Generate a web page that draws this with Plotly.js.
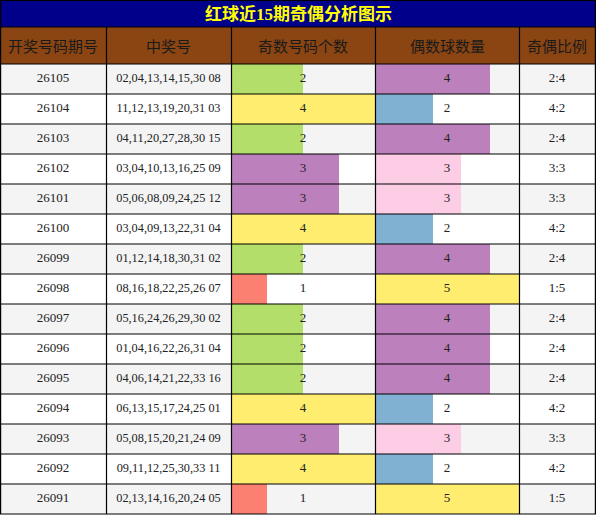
<!DOCTYPE html>
<html>
<head>
<meta charset="utf-8">
<script src="https://cdn.plot.ly/plotly-3.0.1.min.js"></script>
<style>html,body{margin:0;padding:0;background:#fff;}#chart{width:596px;height:515px;}</style>
</head>
<body>
<div id="chart"></div>
<script>
// ---- data ----
var chartTitle = "红球近15期奇偶分析图示";
var headers = ["开奖号码期号", "中奖号", "奇数号码个数", "偶数球数量", "奇偶比例"];
var periods = ["26105","26104","26103","26102","26101","26100","26099","26098","26097","26096","26095","26094","26093","26092","26091"];
var draws = [
  "02,04,13,14,15,30 08",
  "11,12,13,19,20,31 03",
  "04,11,20,27,28,30 15",
  "03,04,10,13,16,25 09",
  "05,06,08,09,24,25 12",
  "03,04,09,13,22,31 04",
  "01,12,14,18,30,31 02",
  "08,16,18,22,25,26 07",
  "05,16,24,26,29,30 02",
  "01,04,16,22,26,31 04",
  "04,06,14,21,22,33 16",
  "06,13,15,17,24,25 01",
  "05,08,15,20,21,24 09",
  "09,11,12,25,30,33 11",
  "02,13,14,16,20,24 05"
];
var oddCounts  = [2,4,2,3,3,4,2,1,2,2,2,4,3,4,1];
var evenCounts = [4,2,4,3,3,2,4,5,4,4,4,2,3,2,5];
var ratios = ["2:4","4:2","2:4","3:3","3:3","4:2","2:4","1:5","2:4","2:4","2:4","4:2","3:3","4:2","1:5"];

// ---- styles ----
var oddColorByCount  = {1:"#fb8072", 2:"#b3de69", 3:"#bc80bd", 4:"#ffed6f"};
var evenColorByOdd   = {1:"#ffed6f", 2:"#bc80bd", 3:"#fccde5", 4:"#80b1d3"};
var W = 596, H = 515;
var colEdges = [0, 106, 231, 375, 519, 595];
var titleH = 27, headerBottom = 64, rowH = 30;
var nRows = periods.length;
var serif = "Liberation Serif, Times New Roman, serif";
var cjk = "Noto Sans CJK SC, sans-serif";
var textColor = "#222";

function px(x){ return x / W; }
function py(p){ return 1 - p / H; }
function center(c){ return (colEdges[c] + colEdges[c+1]) / 2; }

var rowIdx = periods.map(function(_, i){ return i; });
var firstCenter = headerBottom + rowH/2;
var yRange = [(H - firstCenter)/rowH, -firstCenter/rowH];

var traces = [];
// bars (subplots xy and x2y, drawn before text subplot x3y)
traces.push({
  type: "bar", orientation: "h", x: oddCounts, y: rowIdx, xaxis: "x", yaxis: "y",
  width: 1, marker: {color: oddCounts.map(function(v){ return oddColorByCount[v]; }), line: {width: 0}},
  hoverinfo: "skip", showlegend: false
});
traces.push({
  type: "bar", orientation: "h", x: evenCounts, y: rowIdx, xaxis: "x2", yaxis: "y",
  width: 1, marker: {color: oddCounts.map(function(v){ return evenColorByOdd[v]; }), line: {width: 0}},
  hoverinfo: "skip", showlegend: false
});
// text columns
function textTrace(col, texts, size){
  return {
    type: "scatter", mode: "text", x: texts.map(function(){ return center(col); }), y: rowIdx,
    text: texts, textposition: "middle center", xaxis: "x3", yaxis: "y",
    textfont: {family: serif, size: size, color: textColor},
    hoverinfo: "skip", showlegend: false, cliponaxis: false
  };
}
traces.push(textTrace(0, periods, 13));
traces.push(textTrace(1, draws, 12.3));
traces.push(textTrace(2, oddCounts.map(String), 13));
traces.push(textTrace(3, evenCounts.map(String), 13));
traces.push(textTrace(4, ratios, 13));

// shapes
var shapes = [];
for (var i = 0; i < nRows; i++) {
  shapes.push({type: "rect", xref: "paper", yref: "paper", layer: "below",
    x0: 0, x1: 1, y0: py(headerBottom + rowH*(i+1)), y1: py(headerBottom + rowH*i),
    fillcolor: (i % 2 === 0) ? "#f4f4f4" : "#ffffff", line: {width: 0}});
}
shapes.push({type: "rect", xref: "paper", yref: "paper", layer: "above",
  x0: px(0), x1: px(W), y0: py(titleH), y1: py(0), fillcolor: "#00008b", line: {width: 0}});
shapes.push({type: "rect", xref: "paper", yref: "paper", layer: "above",
  x0: px(0), x1: px(W), y0: py(headerBottom), y1: py(titleH), fillcolor: "#8b4513", line: {width: 0}});
var hLines = [0.5, titleH, headerBottom];
for (var r = 1; r <= nRows; r++) hLines.push(headerBottom + rowH*r);
hLines.forEach(function(p){
  shapes.push({type: "line", xref: "paper", yref: "paper", layer: "above",
    x0: 0, x1: 1, y0: py(p), y1: py(p), line: {color: "#000", width: 1.2}});
});
colEdges.forEach(function(x, k){
  var xx = (k === 0) ? 0.6 : (k === colEdges.length-1 ? 595.4 : x + 0.5);
  var top = (k === 0 || k === colEdges.length-1) ? 0 : titleH;
  shapes.push({type: "line", xref: "paper", yref: "paper", layer: "above",
    x0: px(xx), x1: px(xx), y0: py(top), y1: py(headerBottom + rowH*nRows), line: {color: "#000", width: 1.2}});
});

var annotations = [{
  text: "<b>" + chartTitle + "</b>", xref: "paper", yref: "paper", x: px(W/2), y: py(titleH/2 + 0.5),
  xanchor: "center", yanchor: "middle", showarrow: false,
  font: {family: "Liberation Serif, " + cjk, size: 17, color: "#ffff00"}
}];
headers.forEach(function(h, c){
  annotations.push({text: h, xref: "paper", yref: "paper", x: px(center(c)), y: py((titleH + headerBottom)/2),
    xanchor: "center", yanchor: "middle", showarrow: false,
    font: {family: cjk, size: 15, color: "#1a1a1a"}});
});

var hidden = {visible: false, showgrid: false, zeroline: false, fixedrange: true};
var layout = {
  width: W, height: H, margin: {l: 0, r: 0, t: 0, b: 0, pad: 0},
  paper_bgcolor: "#ffffff", plot_bgcolor: "rgba(0,0,0,0)",
  showlegend: false, barmode: "overlay", bargap: 0,
  xaxis: Object.assign({}, hidden, {range: [0, 4], domain: [px(colEdges[2]), px(colEdges[3])], anchor: "y"}),
  xaxis2: Object.assign({}, hidden, {range: [0, 5], domain: [px(colEdges[3]), px(colEdges[4])], anchor: "y"}),
  xaxis3: Object.assign({}, hidden, {range: [0, W], domain: [0, 1], anchor: "y"}),
  yaxis: Object.assign({}, hidden, {range: yRange, domain: [0, 1]}),
  shapes: shapes, annotations: annotations
};
Plotly.newPlot("chart", traces, layout, {staticPlot: true, displayModeBar: false});
</script>
</body>
</html>
